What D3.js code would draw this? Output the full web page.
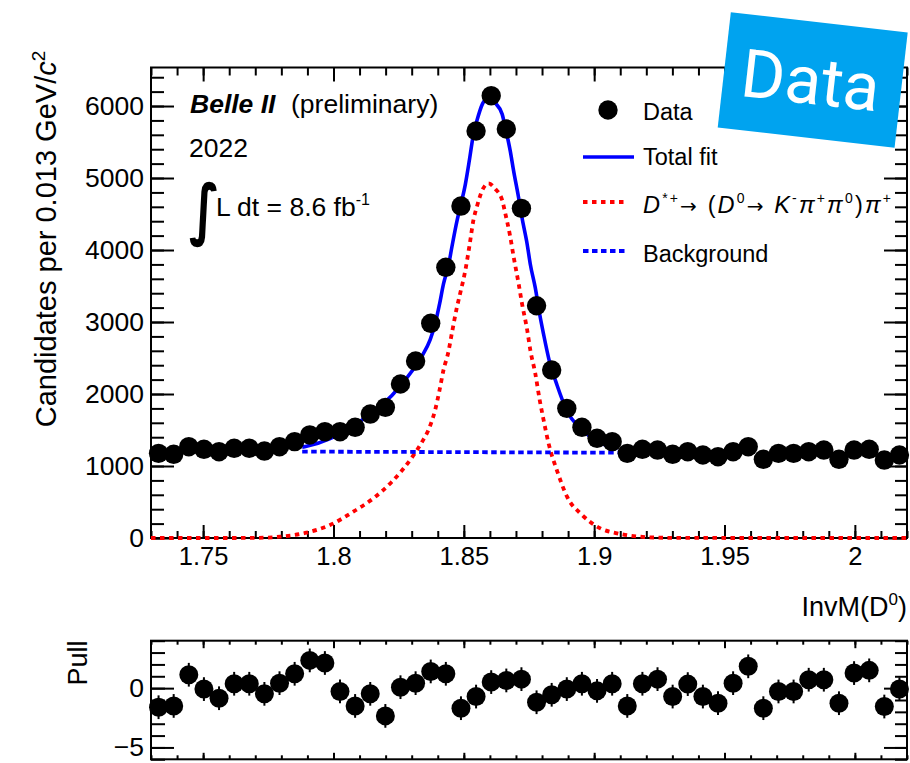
<!DOCTYPE html>
<html><head><meta charset="utf-8">
<script src="https://cdn.jsdelivr.net/npm/d3@7"></script>
<style>
body{margin:0;background:#fff}
svg{display:block}
text{font-family:"Liberation Sans",Arial,Helvetica,sans-serif;fill:#000}
</style>
</head><body>
<svg id="c" width="910" height="763"></svg>
<script>
// ---------------- data ----------------
const binCenters = [1.7329,1.7387,1.7445,1.7503,1.7561,1.7619,1.7677,1.7735,1.7793,1.7851,
  1.7909,1.7967,1.8025,1.8083,1.8141,1.8199,1.8257,1.8315,1.8373,1.8431,
  1.8489,1.8547,1.8605,1.8663,1.8721,1.8779,1.8837,1.8895,1.8953,1.9011,
  1.9069,1.9127,1.9185,1.9243,1.9301,1.9359,1.9417,1.9475,1.9533,1.9591,
  1.9649,1.9707,1.9765,1.9823,1.9881,1.9939,1.9997,2.0055,2.0113,2.0171];
const candidates = [1176,1163,1268,1232,1199,1246,1246,1208,1268,1338,
  1431,1476,1476,1538,1722,1815,2139,2458,2982,3760,
  4611,5653,6143,5681,4579,3226,2333,1801,1538,1385,
  1338,1176,1232,1222,1163,1199,1153,1129,1199,1268,
  1093,1176,1176,1199,1222,1093,1222,1232,1083,1153];
const pulls = [-1.61,-1.50,1.13,-0.08,-0.85,0.37,0.37,-0.48,0.42,1.21,
  2.34,2.12,-0.28,-1.50,-0.48,-2.34,0.08,0.42,1.41,1.21,
  -1.69,-0.71,0.51,0.65,0.76,-1.19,-0.56,-0.08,0.37,-0.23,
  0.37,-1.50,0.37,0.76,-0.71,0.34,-0.71,-1.27,0.42,1.84,
  -1.69,-0.28,-0.28,0.71,0.71,-1.27,1.27,1.50,-1.55,-0.08];
const pullError = 1;

// signal component (red dotted)
const sigX = [1.73,1.76,1.7705,1.7795,1.7897,1.7987,1.8076,1.8153,1.8224,1.8307,
  1.8339,1.8371,1.8390,1.8407,1.8422,1.8441,1.8454,1.8474,1.8486,1.8506,
  1.8522,1.8537,1.8550,1.8572,1.8595,1.8620,1.8647,1.8659,1.8678,1.8691,
  1.8710,1.8723,1.8743,1.8755,1.8774,1.8791,1.8806,1.8826,1.8858,1.8896,
  1.8954,1.9024,1.9088,1.9178,1.9280,1.96,2.02];
const sigY = [0,0,2,18,74,181,365,551,782,1150,
  1330,1560,1778,2056,2333,2588,2843,3213,3398,3722,
  4069,4417,4601,4840,4926,4850,4694,4509,4185,3907,
  3537,3259,2889,2611,2287,1917,1639,1300,930,574,
  319,134,65,18,3,0,0];

// total fit (blue solid) over the fit range
const fitX = [1.788,1.7897,1.7987,1.8076,1.8153,1.8224,1.8307,1.8339,1.8371,1.8390,
  1.8407,1.8422,1.8441,1.8454,1.8474,1.8486,1.8506,1.8522,1.8537,1.8550,
  1.8572,1.8595,1.8620,1.8647,1.8659,1.8678,1.8691,1.8710,1.8723,1.8743,
  1.8755,1.8774,1.8791,1.8806,1.8826,1.8858,1.8896,1.8954,1.9024,1.909];
const totalY = [1262,1274,1380,1563,1748,1978,2346,2526,2756,2974,
  3252,3529,3783,4038,4408,4593,4916,5263,5610,5794,
  6033,6119,6043,5887,5702,5377,5099,4729,4451,4081,
  3803,3478,3108,2829,2489,2118,1761,1505,1320,1247];

// background (blue dotted)
const bkgX = [1.788,1.909];
const bkgY = [1200,1185];

const xMajorTicks = [1.75,1.8,1.85,1.9,1.95,2.0];
const xTickLabels = ["1.75","1.8","1.85","1.9","1.95","2"];
const yMajorTicks = [0,1000,2000,3000,4000,5000,6000];
const yTickLabels = ["0","1000","2000","3000","4000","5000","6000"];
const pullMajorTicks = [-5,0];
const pullTickLabels = ["\u22125","0"];

// ---------------- layout ----------------
const L = 151, R = 907;
const mainTop = 67.5, mainBot = 538;
const pullTop = 640.7, pullBot = 759.3;

const svg = d3.select("#c");
const x = d3.scaleLinear().domain([1.73,2.02]).range([L,R]);
const y = d3.scaleLinear().domain([0,6535]).range([mainBot,mainTop]);
const yp = d3.scaleLinear().domain([-6,4]).range([pullBot,pullTop]);

const xMinor = d3.range(1.73,2.0201,0.01);
const yMinor = d3.range(0,6535,200);
const pMinor = d3.range(-6,4.01,1);

function styleAxis(g){
  g.select(".domain").remove();
  g.selectAll(".tick line").attr("stroke","#000").attr("stroke-width",2);
  g.selectAll(".tick text").attr("fill","#000");
}
function addAxis(axis, tx, ty, fs){
  const g = svg.append("g").attr("transform",`translate(${tx},${ty})`).call(axis);
  g.attr("font-family",null).attr("font-size",null);
  g.selectAll("text").style("font-size",(fs||26)+"px");
  styleAxis(g);
  return g;
}

// main plot axes
addAxis(d3.axisBottom(x).tickValues(xMinor).tickSize(-7).tickFormat(""),0,mainBot);
addAxis(d3.axisBottom(x).tickValues(xMajorTicks).tickSize(-13).tickPadding(8.5)
  .tickFormat((d,i)=>xTickLabels[i]),0,mainBot,25.5);
addAxis(d3.axisTop(x).tickValues(xMinor).tickSize(-8).tickFormat(""),0,mainTop);
addAxis(d3.axisTop(x).tickValues(xMajorTicks).tickSize(-14).tickFormat(""),0,mainTop);
addAxis(d3.axisLeft(y).tickValues(yMinor).tickSize(-13).tickFormat(""),L,0);
addAxis(d3.axisLeft(y).tickValues(yMajorTicks).tickSize(-23).tickPadding(7)
  .tickFormat((d,i)=>yTickLabels[i]),L,0,26.5);
addAxis(d3.axisRight(y).tickValues(yMinor).tickSize(-12).tickFormat(""),R,0);
addAxis(d3.axisRight(y).tickValues(yMajorTicks).tickSize(-23).tickFormat(""),R,0);

svg.append("rect").attr("x",L).attr("y",mainTop).attr("width",R-L).attr("height",mainBot-mainTop)
  .attr("fill","none").attr("stroke","#000").attr("stroke-width",2);

// pull axes
addAxis(d3.axisBottom(x).tickValues(xMinor).tickSize(-4).tickFormat(""),0,pullBot);
addAxis(d3.axisBottom(x).tickValues(xMajorTicks).tickSize(-6.5).tickFormat(""),0,pullBot);
addAxis(d3.axisTop(x).tickValues(xMinor).tickSize(-4).tickFormat(""),0,pullTop);
addAxis(d3.axisTop(x).tickValues(xMajorTicks).tickSize(-7.5).tickFormat(""),0,pullTop);
addAxis(d3.axisLeft(yp).tickValues(pMinor).tickSize(-14).tickFormat(""),L,0);
addAxis(d3.axisLeft(yp).tickValues(pullMajorTicks).tickSize(-23).tickPadding(7)
  .tickFormat((d,i)=>pullTickLabels[i]),L,0,26.5);
addAxis(d3.axisRight(yp).tickValues(pMinor).tickSize(-12).tickFormat(""),R,0);
addAxis(d3.axisRight(yp).tickValues(pullMajorTicks).tickSize(-23).tickFormat(""),R,0);
svg.append("rect").attr("x",L).attr("y",pullTop).attr("width",R-L).attr("height",pullBot-pullTop)
  .attr("fill","none").attr("stroke","#000").attr("stroke-width",2);

// clip for curves
svg.append("clipPath").attr("id","clipMain").append("rect")
  .attr("x",L).attr("y",mainTop).attr("width",R-L).attr("height",mainBot-mainTop+4);

const line = d3.line().x(d=>x(d[0])).y(d=>y(d[1])).curve(d3.curveMonotoneX);
const curves = svg.append("g").attr("clip-path","url(#clipMain)");
curves.append("path").datum(sigX.map((v,i)=>[v,sigY[i]])).attr("d",line)
  .attr("fill","none").attr("stroke","#ff0000").attr("stroke-width",3.8).attr("stroke-dasharray","4.5,4.5");
curves.append("path").datum(bkgX.map((v,i)=>[v,bkgY[i]])).attr("d",line)
  .attr("fill","none").attr("stroke","#0000ff").attr("stroke-width",3.8).attr("stroke-dasharray","5.5,3.5");
curves.append("path").datum(fitX.map((v,i)=>[v,totalY[i]])).attr("d",line)
  .attr("fill","none").attr("stroke","#0000ff").attr("stroke-width",3.6);

// data points
svg.append("g").selectAll("circle").data(binCenters).join("circle")
  .attr("cx",d=>x(d)).attr("cy",(d,i)=>y(candidates[i])).attr("r",9.7).attr("fill","#000");

// pull points
const pg = svg.append("g");
pg.selectAll("line").data(binCenters).join("line")
  .attr("x1",d=>x(d)).attr("x2",d=>x(d))
  .attr("y1",(d,i)=>yp(pulls[i]-pullError)).attr("y2",(d,i)=>yp(pulls[i]+pullError))
  .attr("stroke","#000").attr("stroke-width",2);
pg.selectAll("circle").data(binCenters).join("circle")
  .attr("cx",d=>x(d)).attr("cy",(d,i)=>yp(pulls[i])).attr("r",9.5).attr("fill","#000");

// axis titles
svg.append("text").attr("transform","translate(56,239) rotate(-90)").attr("text-anchor","middle")
  .style("font-size","29px")
  .call(t=>{
    t.append("tspan").text("Candidates per 0.013 GeV/");
    t.append("tspan").attr("font-style","italic").text("c");
    t.append("tspan").attr("dy",-11).style("font-size","19px").text("2");
  });
svg.append("text").attr("transform","translate(87,663) rotate(-90)").attr("text-anchor","middle")
  .style("font-size","27px").text("Pull");
svg.append("text").attr("x",907).attr("y",616).attr("text-anchor","end").style("font-size","27px")
  .call(t=>{
    t.append("tspan").text("InvM(D");
    t.append("tspan").attr("dy",-11).style("font-size","17px").text("0");
    t.append("tspan").attr("dy",11).text(")");
  });

// Belle II labels
svg.append("text").attr("x",190).attr("y",113.3).style("font-size","26.5px")
  .call(t=>{
    t.append("tspan").attr("font-weight","bold").attr("font-style","italic").text("Belle II");
  });
svg.append("text").attr("x",291).attr("y",113.3).style("font-size","26.5px").text("(preliminary)");
svg.append("text").attr("x",189).attr("y",156.7).style("font-size","26.5px").text("2022");
svg.append("text").attr("transform","translate(189,232) scale(1.1,1.45)").style("font-size","46px")
  .style("font-family","'DejaVu Sans'").style("font-weight","bold").text("\u222B");
svg.append("text").attr("x",216).attr("y",216).style("font-size","26.5px")
  .call(t=>{
    t.append("tspan").text("L dt = 8.6 fb");
    t.append("tspan").attr("dy",-11).style("font-size","16px").text("-1");
  });

// legend
const lg = svg.append("g");
lg.append("circle").attr("cx",608).attr("cy",110).attr("r",9.7).attr("fill","#000");
lg.append("line").attr("x1",583).attr("x2",634).attr("y1",157).attr("y2",157)
  .attr("stroke","#0000ff").attr("stroke-width",3.6);
lg.append("line").attr("x1",583).attr("x2",627).attr("y1",202).attr("y2",202)
  .attr("stroke","#ff0000").attr("stroke-width",3.8).attr("stroke-dasharray","4.5,4.5");
lg.append("line").attr("x1",583).attr("x2",627).attr("y1",251).attr("y2",251)
  .attr("stroke","#0000ff").attr("stroke-width",3.8).attr("stroke-dasharray","5.5,3.5");
const lfs = "23.5px";
lg.append("text").attr("x",643).attr("y",120).style("font-size",lfs).text("Data");
lg.append("text").attr("x",643).attr("y",165).style("font-size",lfs).text("Total fit");
lg.append("text").attr("x",643).attr("y",261.5).style("font-size",lfs).text("Background");
lg.append("text").attr("x",643).attr("y",213).style("font-size",lfs)
  .attr("textLength",248).attr("lengthAdjust","spacing")
  .call(t=>{
    const sup = (s,dy)=>t.append("tspan").attr("dy",dy).style("font-size","14px").text(s);
    const arrow = ()=>t.append("tspan").attr("dy",10).style("font-family","'DejaVu Sans'").style("font-size","20px").text("\u2192");
    t.append("tspan").attr("font-style","italic").text("D");
    sup("*+",-10);
    arrow();
    t.append("tspan").text(" (");
    t.append("tspan").attr("font-style","italic").text("D");
    sup("0",-10);
    arrow();
    t.append("tspan").text("  ");
    t.append("tspan").attr("font-style","italic").text("K");
    sup("-",-10);
    t.append("tspan").attr("dy",10).attr("font-style","italic").text("\u03C0");
    sup("+",-10);
    t.append("tspan").attr("dy",10).attr("font-style","italic").text("\u03C0");
    sup("0",-10);
    t.append("tspan").attr("dy",10).text(")");
    t.append("tspan").attr("font-style","italic").text("\u03C0");
    sup("+",-10);
  });

// "Data" badge
const badge = svg.append("g").attr("transform","translate(812.7,80) rotate(6.5)");
badge.append("rect").attr("x",-89).attr("y",-58).attr("width",178).attr("height",116).attr("fill","#00a3ef");
badge.append("text").attr("x",-2).attr("y",24).attr("text-anchor","middle")
  .style("font-family","Roboto").style("font-weight","400").style("font-size","67px")
  .style("fill","#fff").text("Data");
</script>
</body></html>
